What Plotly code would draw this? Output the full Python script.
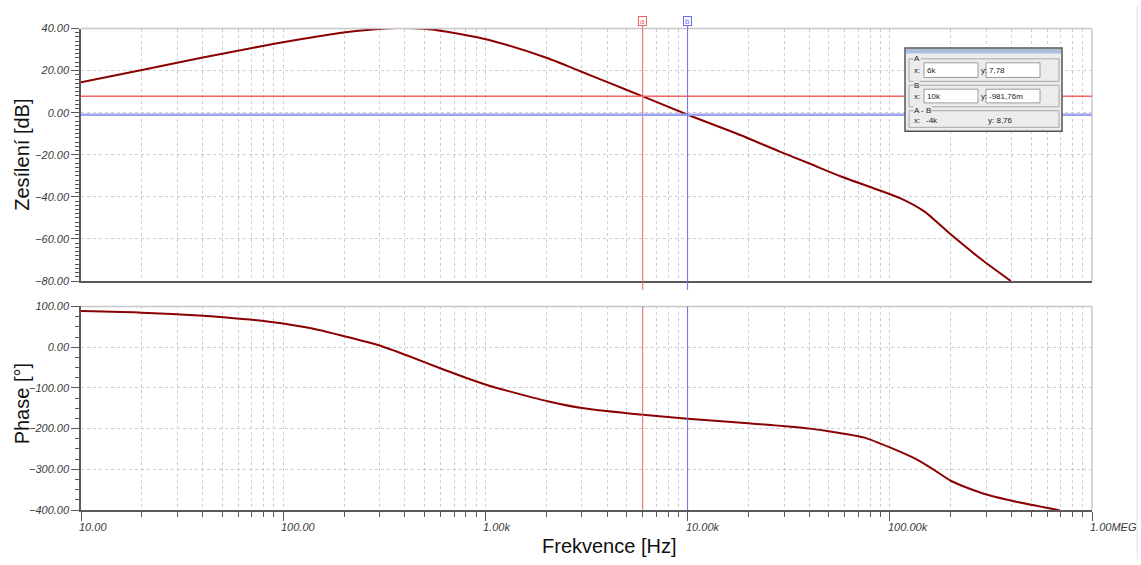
import math
import plotly.graph_objects as go

W, H = 1141, 565

# ---- data ----
freq_gain = [10, 20, 40, 78, 112, 199, 269, 365, 495, 646, 909, 1143, 2020, 2950, 4160,
             6000, 10000, 17600, 28800, 40600, 57000, 83600, 113000, 148000, 200000,
             281000, 397000]
gain_db = [14.4, 20.3, 26.2, 31.6, 34.3, 38.1, 39.4, 40.2, 39.9, 38.5, 35.8, 33.5, 26.0,
           19.7, 13.9, 7.78, -0.98, -10.0, -18.6, -24.4, -30.2, -36.0, -40.7, -46.9,
           -57.8, -69.4, -80.0]

freq_phase = [10, 20, 40.3, 50.7, 80, 100, 150, 203, 297, 417, 611, 1000, 1300, 2055,
              3000, 6000, 10000, 19900, 40000, 50800, 75000, 100000, 135000, 164000,
              200000, 243000, 307000, 435000, 695000]
phase_deg = [88.7, 84.9, 77.5, 73.5, 64.5, 58.0, 42.4, 26.4, 4.8, -21.6, -53.5, -91.8,
             -107.9, -133.3, -149.4, -166.0, -175.6, -186.6, -200.0, -207.0, -222.0,
             -246.0, -274.8, -300.0, -328.0, -345.7, -363.0, -381.0, -400.8]

x_tick_vals = [10, 100, 1000, 10000, 100000, 1000000]
x_tick_text = ["10.00", "100.00", "1.00k", "10.00k", "100.00k", "1.00MEG"]

cursor_names = ["a", "b"]
cursor_freqs = [6000, 10000]
cursor_gains = [7.78, -0.98176]
cursor_colors = ["#f06464", "#6a6af0"]
cursor_hcolors = ["#f06464", "#9aa2f2"]

box_rows = [("A", "6k", "7,78"), ("B", "10k", "-981,76m")]
diff_row = ("A - B", "-4k", "8,76")

# ---- helpers ----
def px(x):
    return x / W

def py(y):
    return 1 - y / H

X0, X1 = 81, 1092
TOP = (23, 281)
BOT = (307, 515)

DARK = "#8b0000"
GRID = "#cdcdcd"
AX = "#5a5a5a"
TICKFONT = dict(family="Liberation Sans, Arial", size=11, color="#3a3a3a", style="italic")

fig = go.Figure()
fig.add_trace(go.Scatter(x=freq_gain, y=gain_db, xaxis="x", yaxis="y", mode="lines",
                         line=dict(color=DARK, width=2, shape="spline", smoothing=0.6),
                         showlegend=False, hoverinfo="skip"))
fig.add_trace(go.Scatter(x=freq_phase, y=phase_deg, xaxis="x2", yaxis="y2", mode="lines",
                         line=dict(color=DARK, width=2, shape="spline", smoothing=0.6),
                         showlegend=False, hoverinfo="skip"))

xcommon = dict(type="log", range=[1, 6], domain=[px(X0), px(X1)],
               showgrid=True, gridcolor=GRID, griddash="3px,3px", gridwidth=1,
               zeroline=False, showline=True, linecolor=AX, linewidth=1.5)
ycommon = dict(showgrid=True, gridcolor=GRID, griddash="3px,3px", zeroline=False,
               showline=True, linecolor=AX, linewidth=1.5, ticks="outside", ticklen=8,
               tickcolor=AX, tickformat=".2f", tickfont=TICKFONT, ticklabelstandoff=0)

fig.update_layout(
    width=W, height=H, margin=dict(l=0, r=0, t=0, b=0),
    paper_bgcolor="white", plot_bgcolor="white", showlegend=False,
    xaxis=dict(**xcommon, anchor="y", showticklabels=False, ticks="",
               minor=dict(dtick="D1", showgrid=True, gridcolor=GRID, griddash="3px,3px",
                          gridwidth=1)),
    xaxis2=dict(**xcommon, anchor="y2", matches="x", showticklabels=False,
                ticks="outside", ticklen=9, tickcolor=AX, tickvals=x_tick_vals,
                minor=dict(dtick="D1", showgrid=True, gridcolor=GRID, griddash="3px,3px",
                           ticks="outside", ticklen=5, tickcolor=AX)),
    yaxis=dict(**ycommon, domain=[py(TOP[1]), py(TOP[0])], range=[-80, 40], dtick=20,
               anchor="x", minor=dict(dtick=2, ticks="outside", ticklen=4, tickcolor=AX)),
    yaxis2=dict(**ycommon, domain=[py(BOT[1]), py(BOT[0])], range=[-400, 100], dtick=100,
                anchor="x2", minor=dict(dtick=25, ticks="outside", ticklen=4, tickcolor=AX)),
)

shapes = []
annots = []

# light top/right frame borders
for (t, b) in (TOP, BOT):
    shapes.append(dict(type="line", xref="paper", yref="paper", x0=px(X0), x1=px(X1),
                       y0=py(t), y1=py(t), line=dict(color="#c8c8c8", width=1.5)))
    shapes.append(dict(type="line", xref="paper", yref="paper", x0=px(X1), x1=px(X1),
                       y0=py(t), y1=py(b), line=dict(color="#c8c8c8", width=1.5)))
shapes.append(dict(type="line", xref="paper", yref="paper", x0=px(1137), x1=px(1137),
                   y0=0, y1=1, line=dict(color="#e4e4e4", width=1)))

# cursors
for name, f, g, c, hc in zip(cursor_names, cursor_freqs, cursor_gains, cursor_colors,
                              cursor_hcolors):
    lf = math.log10(f)
    shapes.append(dict(type="line", xref="paper", yref="y", x0=px(X0), x1=px(X1),
                       y0=g, y1=g, line=dict(color=hc, width=1.5 if name == "a" else 2.5)))
    shapes.append(dict(type="line", xref="x", yref="paper", x0=f, x1=f,
                       y0=py(290), y1=py(20), line=dict(color=c, width=1)))
    shapes.append(dict(type="line", xref="x2", yref="paper", x0=f, x1=f,
                       y0=py(BOT[1]), y1=py(BOT[0]), line=dict(color=c, width=1)))
    annots.append(dict(xref="x", yref="paper", x=lf, y=py(15.5), text=name,
                       xanchor="center", yanchor="middle",
                       showarrow=False, font=dict(size=8, color=c, family="Liberation Sans"),
                       bordercolor=c, borderwidth=1, borderpad=0, bgcolor="white",
                       width=7, height=8))

# x tick labels
for v, t in zip(x_tick_vals, x_tick_text):
    annots.append(dict(xref="x2", yref="paper", x=math.log10(v), y=py(532), text=t,
                       xanchor="left", yanchor="middle", xshift=-4, showarrow=False,
                       font=TICKFONT))

# axis titles
TF = dict(family="Liberation Sans, Arial", size=20, color="#111111")
annots.append(dict(xref="paper", yref="paper", x=px(22), y=py(152), text="Zesílení [dB]",
                   textangle=-90, xanchor="center", yanchor="middle", showarrow=False,
                   font=TF))
annots.append(dict(xref="paper", yref="paper", x=px(22), y=py(407), text="Phase [°]",
                   textangle=-90, xanchor="center", yanchor="middle", showarrow=False,
                   font=TF))
annots.append(dict(xref="paper", yref="paper", x=px(609), y=py(552), text="Frekvence [Hz]",
                   xanchor="center", yanchor="middle", showarrow=False, font=TF))

# cursor read-out box
def rect(x0, y0, x1, y1, fill=None, line="#a0a0a0", w=1):
    shapes.append(dict(type="rect", xref="paper", yref="paper", x0=px(x0), x1=px(x1),
                       y0=py(y1), y1=py(y0), fillcolor=fill or "rgba(0,0,0,0)",
                       line=dict(color=line, width=w)))

def txt(x, y, s, size=8, color="#222222", bg=None):
    d = dict(xref="paper", yref="paper", x=px(x), y=py(y), text=s, xanchor="left",
             yanchor="middle", showarrow=False,
             font=dict(family="Liberation Sans, Arial", size=size, color=color))
    if bg:
        d["bgcolor"] = bg
        d["borderpad"] = 0
    annots.append(d)

rect(905, 43, 1062, 128, fill="#ececec", line="#555555", w=1.5)
rect(906, 44, 1061, 48.5, fill="#a9bfdc", line="#a9bfdc", w=0)
group_y = [(54, 77), (81, 103)]
for (lab, xv, yv), (g0, g1) in zip(box_rows, group_y):
    rect(909, g0, 1059, g1, line="#a8a8a8")
    txt(913, g0, lab, bg="#ececec")
    fy0, fy1 = g0 + 4, g1 - 4
    rect(924, fy0, 978, fy1, fill="white", line="#9a9a9a")
    rect(986, fy0, 1040, fy1, fill="white", line="#9a9a9a")
    ym = (fy0 + fy1) / 2
    txt(912, ym, "x:")
    txt(925, ym, xv)
    txt(979, ym, "y:")
    txt(987, ym, yv)
rect(909, 107, 1059, 124, line="#a8a8a8")
txt(913, 107, diff_row[0], bg="#ececec")
txt(912, 117, "x:")
txt(924, 117, diff_row[1])
txt(986, 117, "y: " + diff_row[2])

fig.update_layout(shapes=shapes, annotations=annots)
fig.write_html("out.html")
